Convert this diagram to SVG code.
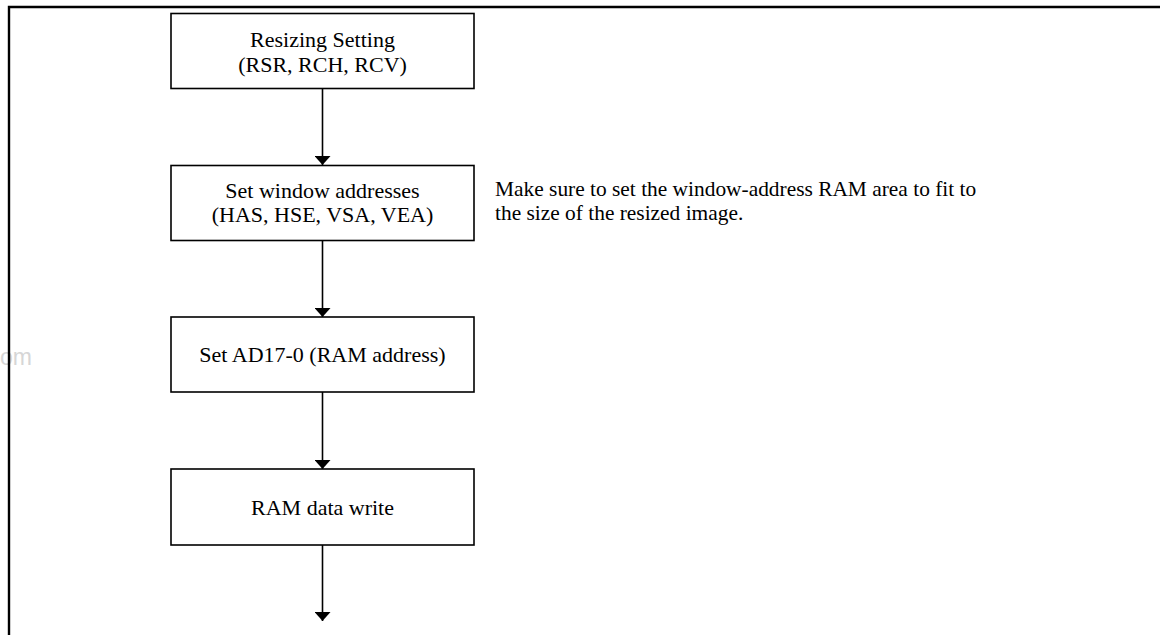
<svg xmlns="http://www.w3.org/2000/svg" width="1160" height="635" viewBox="0 0 1160 635">
<style>
.box{fill:#fff;stroke:#000;stroke-width:1.6}
.t{font-family:"Liberation Serif","Times New Roman",serif;font-size:22px;fill:#000}
.n{font-size:21.4px}
.c{text-anchor:middle}
.conn{stroke:#000;stroke-width:1.6;fill:none}
.frame{stroke:#000;stroke-width:2.4;fill:none}
</style>
<defs>
<marker id="ah" markerWidth="9" markerHeight="16" refX="9" refY="8" orient="auto" markerUnits="userSpaceOnUse">
<path d="M0,0 L9,8 L0,16 Z" fill="#000"/>
</marker>
</defs>
<rect width="1160" height="635" fill="#fff"/>
<text x="0" y="365" font-family="Liberation Sans,Arial,sans-serif" font-size="23" fill="#d6d6d6">om</text>
<path class="frame" d="M9,635 V7 H1160"/>
<g id="connectors">
<line class="conn" x1="322.5" y1="88" x2="322.5" y2="165" marker-end="url(#ah)"/>
<line class="conn" x1="322.5" y1="241" x2="322.5" y2="317" marker-end="url(#ah)"/>
<line class="conn" x1="322.5" y1="392" x2="322.5" y2="469" marker-end="url(#ah)"/>
<line class="conn" x1="322.5" y1="545" x2="322.5" y2="621" marker-end="url(#ah)"/>
</g>
<g id="n1">
<rect class="box" x="171" y="13.5" width="303" height="75"/>
<text class="t c" x="322.5" y="47">Resizing Setting</text>
<text class="t c" x="322.5" y="72">(RSR, RCH, RCV)</text>
</g>
<g id="n2">
<rect class="box" x="171" y="165.5" width="303" height="75"/>
<text class="t c" x="322.5" y="198">Set window addresses</text>
<text class="t c" x="322.5" y="222">(HAS, HSE, VSA, VEA)</text>
</g>
<g id="n3">
<rect class="box" x="171" y="317" width="303" height="75"/>
<text class="t c" x="322.5" y="362">Set AD17-0 (RAM address)</text>
</g>
<g id="n4">
<rect class="box" x="171" y="469" width="303" height="76"/>
<text class="t c" x="322.5" y="514.5">RAM data write</text>
</g>
<g id="note">
<text class="t n" x="495" y="196">Make sure to set the window-address RAM area to fit to</text>
<text class="t n" x="495" y="220">the size of the resized image.</text>
</g>
</svg>
